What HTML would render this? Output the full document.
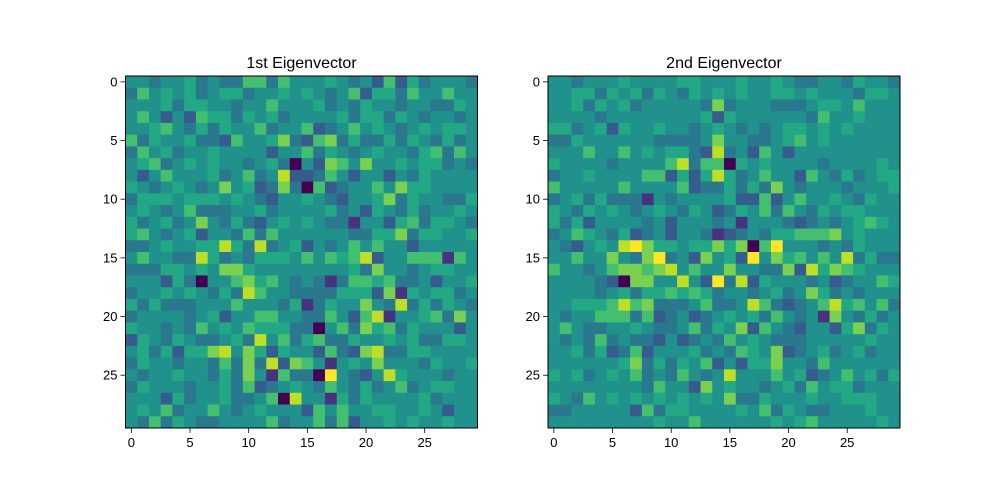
<!DOCTYPE html>
<html><head><meta charset="utf-8"><style>
html,body{margin:0;padding:0;background:#fff;}
svg{display:block;font-family:"Liberation Sans","DejaVu Sans",sans-serif;}
</style></head><body>
<svg id="fig" width="1000" height="500" viewBox="0 0 1000 500"></svg>
<script>
// values on a 0..9 scale (viridis level), one string per row
const eig1Rows = [
"443445343366364"+"445434262534443",
"364545345534454"+"543462553644644",
"444535544344644"+"453435443443354",
"464242655354534"+"444535535434434",
"445643535446344"+"623464543454554",
"635445332644573"+"267353353543534",
"364534454444244"+"635434544356364",
"456345454434530"+"427647445455343",
"424644453463482"+"236424424354444",
"543454347452373"+"062344647554444",
"355545554543244"+"543244573544335",
"454346333445344"+"445342543534454",
"534534743532454"+"543314425635543",
"564345244363644"+"444433557355445",
"334544558538345"+"243464644244444",
"464433853435554"+"646568244666164",
"333554547754444"+"444453744345544",
"444253044675643"+"431366563342445",
"344545435386443"+"333555271545534",
"535333444644435"+"135447438353543",
"344443452446644"+"336426814456374",
"544343645465553"+"304637563544424",
"254354334538463"+"563354454533554",
"453525578475254"+"426327833554444",
"354434436373827"+"641454744435445",
"434454435374163"+"309432485444344",
"354443445362345"+"436435346345544",
"444253445334608"+"441535444453444",
"454634464345444"+"264644554454244",
"436354334444634"+"463624454544544"
];
const eig2Rows = [
"443444544445544"+"454454334435443",
"445535453543545"+"454455454443554",
"445354534444437"+"344433345546444",
"444434444444452"+"544444436445444",
"553452544544345"+"434345545454444",
"335444444333347"+"443345645444444",
"444644645455328"+"342642444444444",
"544443444468366"+"054544443444454",
"344544446625258"+"534644264353455",
"644444644446233"+"535374344434445",
"345353331434444"+"522624644543544",
"543545434543542"+"354636435455444",
"535244443424443"+"414443234345654",
"346543523424431"+"234355666745444",
"432454897554557"+"570694443435444",
"446447437934274"+"529475646483533",
"644346776784644"+"744337285765444",
"444432077448429"+"382544434234465",
"444434535565653"+"443453475343444",
"445556867333463"+"348632346856463",
"434466636234234"+"545364341743534",
"464334454334635"+"472643244257354",
"434363433242343"+"645433344444544",
"445352362444534"+"365472345345344",
"444444573535462"+"425574436444444",
"545345463436434"+"844464523464535",
"444444443644274"+"544345364553444",
"543645454545454"+"733544454455544",
"334444426355444"+"454635433444544",
"444444444544644"+"444454564444454"
];
const xTicks = [0,5,10,15,20,25];
const yTicks = [0,5,10,15,20,25];
const titles = ["1st Eigenvector","2nd Eigenvector"];

const viridis = ["#440154","#46327e","#365c8d","#2a788e","#21918c","#22a884","#44bf70","#7ad151","#bddf26","#fde725"];
const svg = document.getElementById('fig');
const NS = "http://www.w3.org/2000/svg";
function mk(tag, attrs){const e=document.createElementNS(NS,tag);for(const k in attrs)e.setAttribute(k,attrs[k]);return e;}
const panels = [{x0:125.5,rows:eig1Rows,name:'first'},{x0:548,rows:eig2Rows,name:'second'}];
const y0 = 76, size = 352, n = 30, cs = size/n;
panels.forEach((p,pi)=>{
  const g = mk('g',{});
  
  
  svg.appendChild(g);
  const xs = c => p.x0 + c*cs;
  const ys = r => y0 + r*cs;
  p.rows.forEach((row,r)=>{
    for(let c=0;c<n;c++){
      const v = +row[c];
      const rect = mk('rect',{x:xs(c),y:ys(r),width:cs+0.4,height:cs+0.4,fill:viridis[v]});
      
      
      g.appendChild(rect);
    }
  });
  const frame = mk('rect',{x:p.x0,y:y0,width:size,height:size,fill:'none',stroke:'#000','stroke-width':1});
  
  
  svg.appendChild(frame);
  xTicks.forEach(t=>{
    const x = xs(t+0.5);
    const l = mk('line',{x1:x,x2:x,y1:y0+size,y2:y0+size+5,stroke:'#000','stroke-width':0.8});
    
    
    svg.appendChild(l);
    const tx = mk('text',{x:x,y:y0+size+19,'text-anchor':'middle','font-size':13,fill:'#000'});
    tx.textContent = t;
    
    
    svg.appendChild(tx);
  });
  yTicks.forEach(t=>{
    const y = ys(t+0.5);
    const l = mk('line',{x1:p.x0-5,x2:p.x0,y1:y,y2:y,stroke:'#000','stroke-width':0.8});
    
    
    svg.appendChild(l);
    const tx = mk('text',{x:p.x0-8,y:y+4.5,'text-anchor':'end','font-size':13,fill:'#000'});
    tx.textContent = t;
    
    
    svg.appendChild(tx);
  });
  const ti = mk('text',{x:p.x0+size/2,y:y0-8,'text-anchor':'middle','font-size':16,fill:'#000'});
  ti.textContent = titles[pi];
  
  
  svg.appendChild(ti);
});
</script>
</body></html>
